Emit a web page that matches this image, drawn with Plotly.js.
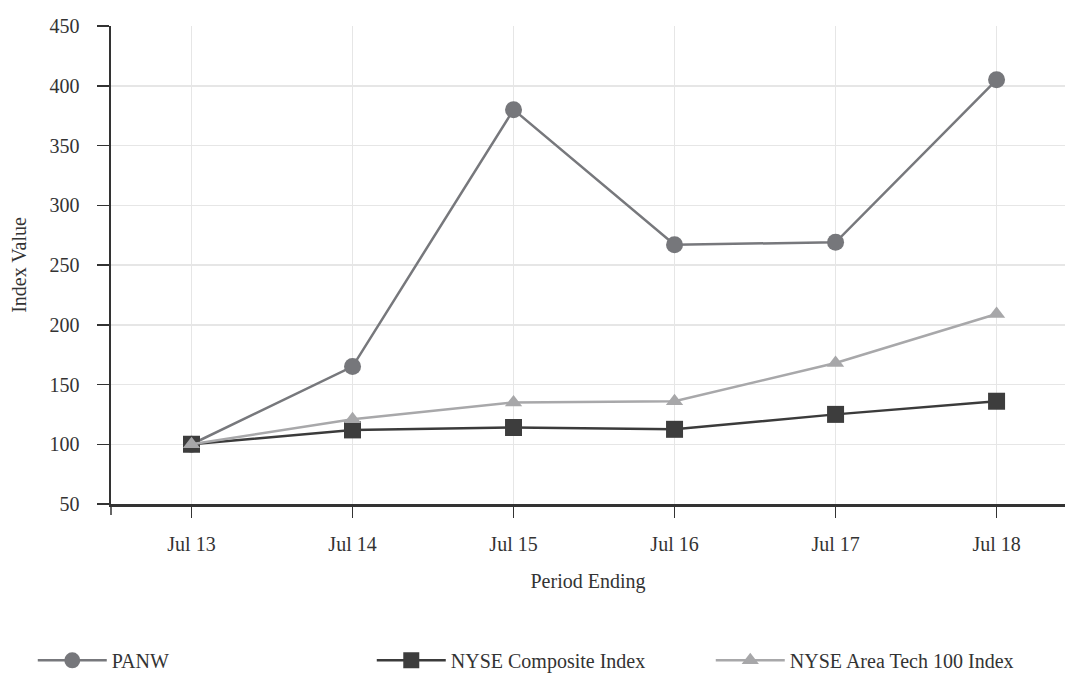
<!DOCTYPE html>
<html>
<head>
<meta charset="utf-8">
<script src="https://cdn.plot.ly/plotly-3.0.1.min.js"></script>
<style>html,body{margin:0;padding:0;background:#fff}#chart{width:1065px;height:673px}</style>
</head>
<body>
<div id="chart"></div>
<script>
const periods = ["Jul 13", "Jul 14", "Jul 15", "Jul 16", "Jul 17", "Jul 18"];
const panw = [100, 165, 380, 267, 269, 405];
const nyseComposite = [100, 112, 114, 112.5, 125, 136];
const nyseTech100 = [100, 121, 135, 136, 168, 209];
const seriesNames = ["PANW", "NYSE Composite Index", "NYSE Area Tech 100 Index"];

const FONT = 'Liberation Serif';
const TEXT = '#333333';

const traces = [
  {x: periods, y: panw, name: seriesNames[0], mode: 'lines+markers',
   line: {color: '#77787c', width: 2.5},
   marker: {symbol: 'circle', size: 17, color: '#76777b'}},
  {x: periods, y: nyseComposite, name: seriesNames[1], mode: 'lines+markers',
   line: {color: '#3b3b3b', width: 2.5},
   marker: {symbol: 'square', size: 17, color: '#3d3d3d'}},
  {x: periods, y: nyseTech100, name: seriesNames[2], mode: 'lines+markers',
   line: {color: '#a8a8aa', width: 2.5},
   marker: {symbol: 'triangle-up', size: 15, color: '#a7a7a9'}}
];

const layout = {
  width: 1065, height: 673,
  margin: {l: 111, r: 0, t: 26, b: 169, autoexpand: false},
  paper_bgcolor: '#fff', plot_bgcolor: '#fff',
  font: {family: FONT, size: 20, color: TEXT},
  showlegend: true,
  legend: {orientation: 'h', x: -0.082, xanchor: 'left', y: -0.327, yanchor: 'middle',
           font: {family: FONT, size: 20, color: TEXT},
           entrywidth: 255, entrywidthmode: 'pixels', itemwidth: 69, traceorder: 'normal'},
  xaxis: {
    type: 'category', range: [-0.5, 5.425],
    showline: true, linecolor: '#333', linewidth: 2.5,
    showgrid: true, gridcolor: '#e6e6e6', gridwidth: 1.5,
    ticks: 'outside', ticklen: 11, tickwidth: 1.5, tickcolor: '#333',
    ticklabelstandoff: 9,
    tickfont: {family: FONT, size: 20, color: TEXT},
    title: {text: 'Period Ending', font: {family: FONT, size: 20, color: TEXT}, standoff: 21},
    automargin: false, zeroline: false
  },
  yaxis: {
    range: [50, 450], tickvals: [50,100,150,200,250,300,350,400,450],
    showline: true, linecolor: '#333', linewidth: 2.5,
    showgrid: true, gridcolor: '#e6e6e6', gridwidth: 1.5,
    ticks: 'outside', ticklen: 12, tickwidth: 1.5, tickcolor: '#333',
    ticklabelstandoff: 13,
    tickfont: {family: FONT, size: 20, color: TEXT},
    title: {text: 'Index Value', font: {family: FONT, size: 20, color: TEXT}, standoff: 18},
    automargin: false, zeroline: false
  },
  shapes: [
    {type: 'line', xref: 'paper', yref: 'paper', x0: 0, x1: 0, y0: 0, y1: -0.023,
     line: {color: '#333', width: 1.5}}
  ]
};

Plotly.newPlot('chart', traces, layout, {displayModeBar: false, staticPlot: true});
</script>
</body>
</html>
